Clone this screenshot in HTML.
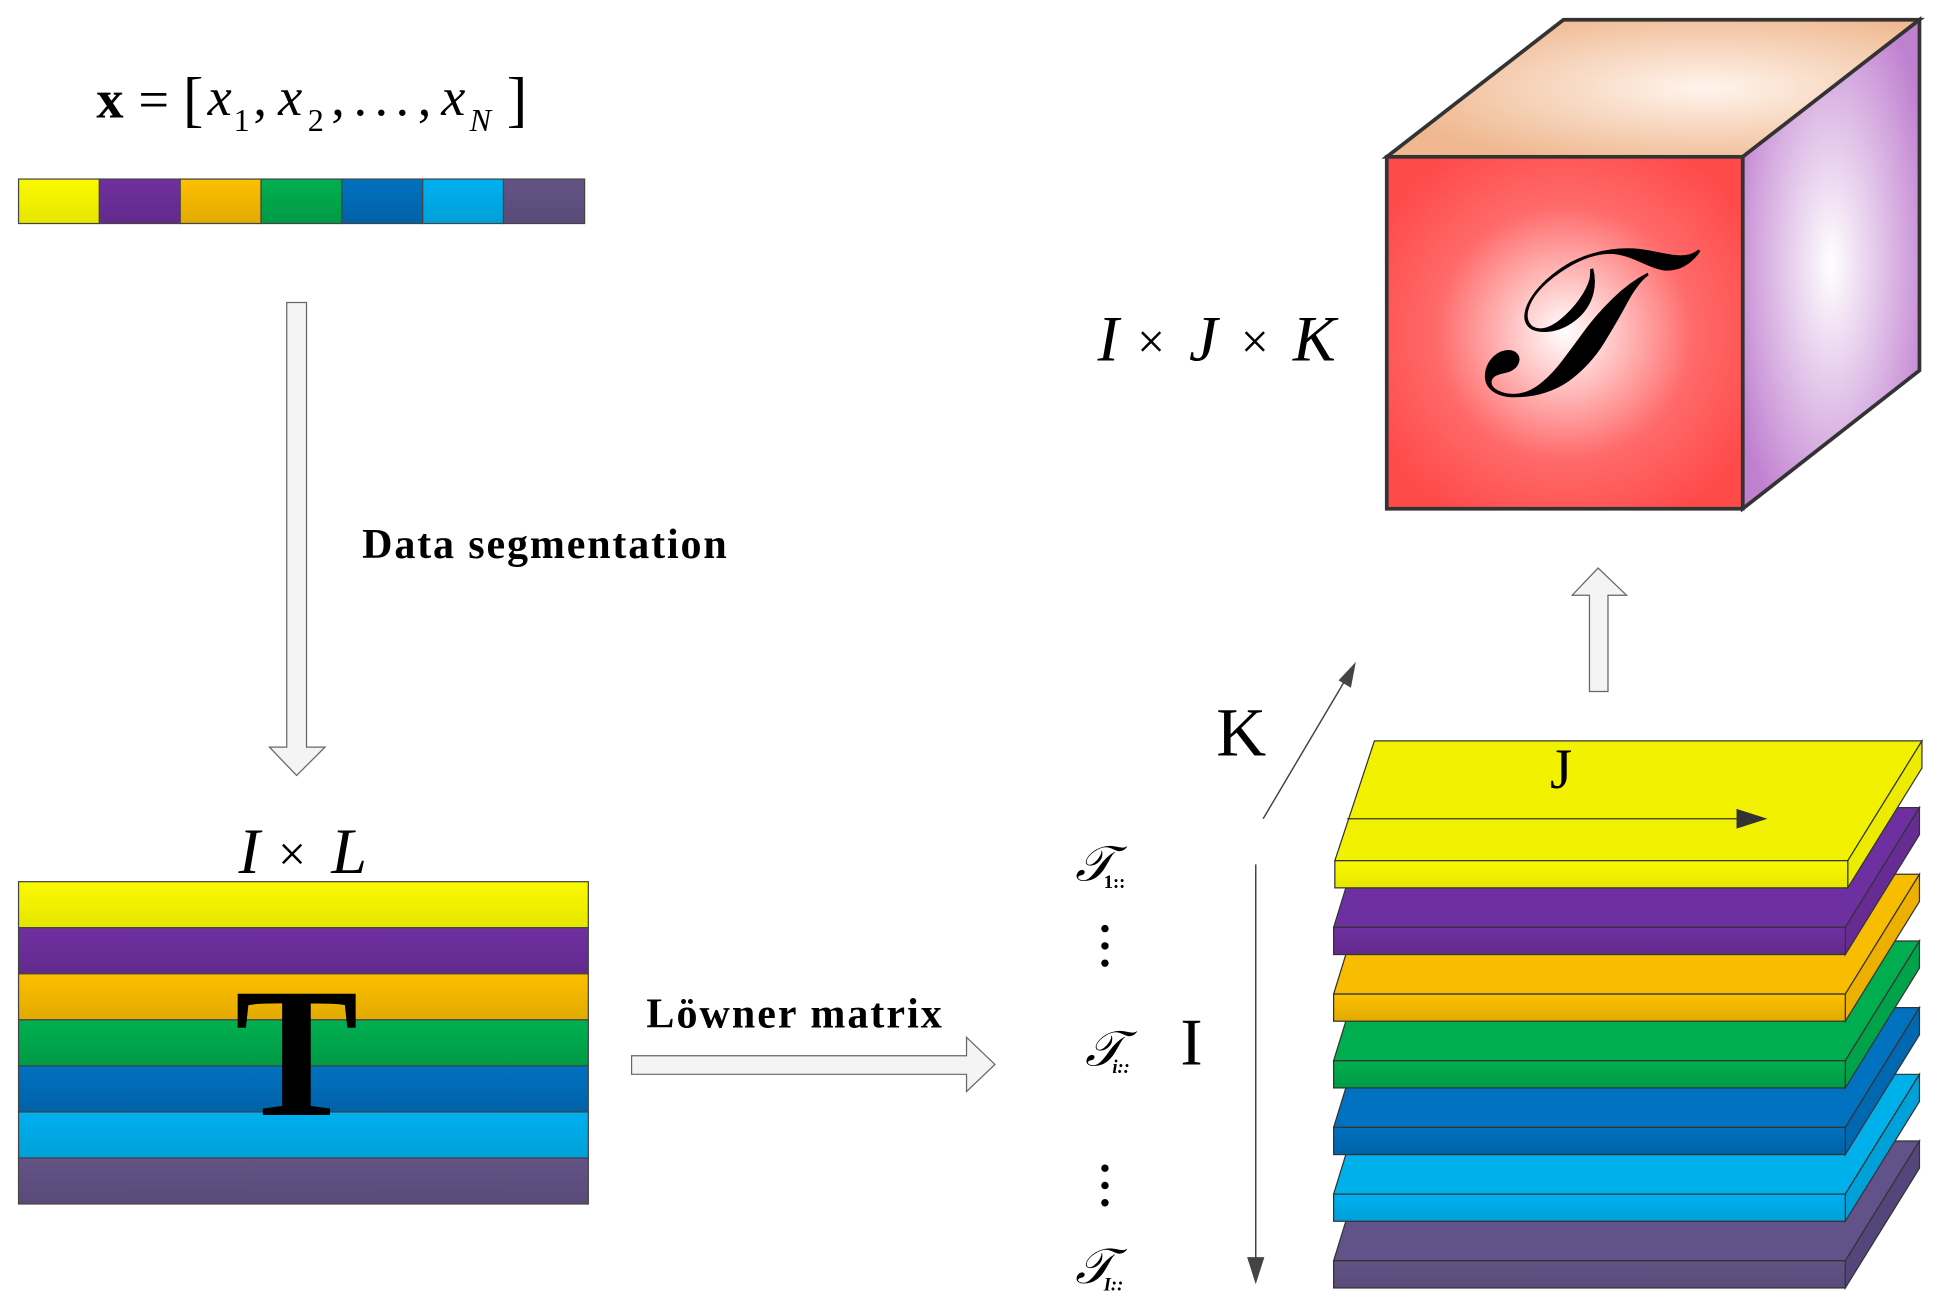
<!DOCTYPE html>
<html><head><meta charset="utf-8"><style>html,body{margin:0;padding:0;background:#fff}svg{display:block}</style></head>
<body>
<svg width="1938" height="1304" viewBox="0 0 1568 1056" preserveAspectRatio="none" xmlns="http://www.w3.org/2000/svg" font-family="'Liberation Serif',serif">
<defs>
<linearGradient id="gy" x1="0" y1="0" x2="0" y2="1"><stop offset="0" stop-color="#fafa00"/><stop offset="1" stop-color="#e6e600"/></linearGradient>
<linearGradient id="gp" x1="0" y1="0" x2="0" y2="1"><stop offset="0" stop-color="#7030a0"/><stop offset="1" stop-color="#622a8c"/></linearGradient>
<linearGradient id="go" x1="0" y1="0" x2="0" y2="1"><stop offset="0" stop-color="#fcc000"/><stop offset="1" stop-color="#e2aa00"/></linearGradient>
<linearGradient id="gg" x1="0" y1="0" x2="0" y2="1"><stop offset="0" stop-color="#00b050"/><stop offset="1" stop-color="#009a46"/></linearGradient>
<linearGradient id="gb" x1="0" y1="0" x2="0" y2="1"><stop offset="0" stop-color="#0072c0"/><stop offset="1" stop-color="#0062a8"/></linearGradient>
<linearGradient id="gc" x1="0" y1="0" x2="0" y2="1"><stop offset="0" stop-color="#00b0f0"/><stop offset="1" stop-color="#00a0d8"/></linearGradient>
<linearGradient id="gs" x1="0" y1="0" x2="0" y2="1"><stop offset="0" stop-color="#645486"/><stop offset="1" stop-color="#5a4a7a"/></linearGradient>
<radialGradient id="rr" cx="0.5" cy="0.5" r="0.6"><stop offset="0" stop-color="#ffffff"/><stop offset="0.6" stop-color="#ff6a6a"/><stop offset="1" stop-color="#ff4a4a"/></radialGradient>
<radialGradient id="rp" cx="0.5" cy="0.5" r="0.6"><stop offset="0" stop-color="#ffffff"/><stop offset="1" stop-color="#c080d0"/></radialGradient>
<radialGradient id="rt" cx="0.6" cy="0.5" r="0.6"><stop offset="0" stop-color="#fff4ec"/><stop offset="1" stop-color="#efb890"/></radialGradient>
</defs>

<!-- formula -->
<text x="78" y="95" font-size="44" font-weight="bold">x</text>
<text x="112" y="95" font-size="44">=</text>
<text x="148" y="97" font-size="50">[</text>
<text x="168" y="93" font-size="44" font-style="italic">x</text>
<text x="189" y="106" font-size="26">1</text>
<text x="205" y="93" font-size="44">,</text>
<text x="225" y="93" font-size="44" font-style="italic">x</text>
<text x="249" y="106" font-size="26">2</text>
<text x="268" y="93" font-size="44">,</text>
<text x="286" y="93" font-size="44" letter-spacing="6">...</text>
<text x="338" y="93" font-size="44">,</text>
<text x="357" y="93" font-size="44" font-style="italic">x</text>
<text x="380" y="106" font-size="26" font-style="italic">N</text>
<text x="410" y="97" font-size="50">]</text>

<!-- color bar -->
<g stroke="#444" stroke-width="1">
<rect x="15" y="145" width="65.4" height="36" fill="url(#gy)"/>
<rect x="80.4" y="145" width="65.4" height="36" fill="url(#gp)"/>
<rect x="145.8" y="145" width="65.4" height="36" fill="url(#go)"/>
<rect x="211.2" y="145" width="65.4" height="36" fill="url(#gg)"/>
<rect x="276.6" y="145" width="65.4" height="36" fill="url(#gb)"/>
<rect x="342" y="145" width="65.4" height="36" fill="url(#gc)"/>
<rect x="407.4" y="145" width="65.6" height="36" fill="url(#gs)"/>
</g>

<!-- down arrow -->
<polygon points="232,245 248,245 248,605 263,605 240,628 218,605 232,605" fill="#f4f4f4" stroke="#666" stroke-width="1"/>
<text x="293" y="452" font-size="34" font-weight="bold" textLength="295" lengthAdjust="spacing">Data segmentation</text>

<text x="193" y="707" font-size="52" font-style="italic">I</text>
<text x="225" y="705" font-size="40">×</text>
<text x="268" y="707" font-size="52" font-style="italic">L</text>

<!-- left stack -->
<g stroke="#444" stroke-width="1">
<rect x="15" y="714" width="461" height="37.3" fill="url(#gy)"/>
<rect x="15" y="751.3" width="461" height="37.3" fill="url(#gp)"/>
<rect x="15" y="788.6" width="461" height="37.3" fill="url(#go)"/>
<rect x="15" y="825.9" width="461" height="37.3" fill="url(#gg)"/>
<rect x="15" y="863.2" width="461" height="37.3" fill="url(#gb)"/>
<rect x="15" y="900.5" width="461" height="37.3" fill="url(#gc)"/>
<rect x="15" y="937.8" width="461" height="37.2" fill="url(#gs)"/>
</g>
<text x="240" y="903" font-size="150" font-weight="bold" text-anchor="middle">T</text>

<text x="523" y="832" font-size="34" font-weight="bold" textLength="239" lengthAdjust="spacing">Löwner matrix</text>
<polygon points="511,855 782,855 782,840 805,862 782,884 782,870 511,870" fill="#f4f4f4" stroke="#666" stroke-width="1"/>

<!-- labels -->
<g font-style="italic">
<text x="870" y="713" font-size="40">𝒯</text><text x="893" y="719" font-size="15" font-style="normal" font-weight="bold">1::</text>
<text x="878" y="863" font-size="40">𝒯</text><text x="900" y="869" font-size="15" font-weight="bold">i::</text>
<text x="870" y="1039" font-size="40">𝒯</text><text x="893" y="1045" font-size="15" font-weight="bold">I::</text>
</g>
<g fill="#000">
<circle cx="894" cy="752" r="3"/><circle cx="894" cy="766" r="3"/><circle cx="894" cy="780" r="3"/>
<circle cx="894" cy="946" r="3"/><circle cx="894" cy="960" r="3"/><circle cx="894" cy="974" r="3"/>
</g>
<text x="955" y="862" font-size="54">I</text>

<line x1="1016" y1="700" x2="1016" y2="1020" stroke="#444" stroke-width="1.2"/>
<polygon points="1009,1018 1023,1018 1016,1040" fill="#444"/>
<line x1="1022" y1="663" x2="1090" y2="548" stroke="#444" stroke-width="1.2"/>
<polygon points="1097,536 1093,557 1083,551" fill="#444"/>
<text x="984" y="612" font-size="56">K</text>

<!-- layers -->
<g stroke="#333" stroke-width="1">
<g transform="translate(0,324)"><polygon points="1079,697 1109,600 1553,600 1493,697" fill="#62528a"/><polygon points="1493,697 1553,600 1553,622 1493,719" fill="#54467a"/><rect x="1079" y="697" width="414" height="22" fill="url(#gs)"/></g>
<g transform="translate(0,270)"><polygon points="1079,697 1109,600 1553,600 1493,697" fill="#00b0ea"/><polygon points="1493,697 1553,600 1553,622 1493,719" fill="#00a0d8"/><rect x="1079" y="697" width="414" height="22" fill="url(#gc)"/></g>
<g transform="translate(0,216)"><polygon points="1079,697 1109,600 1553,600 1493,697" fill="#0072c0"/><polygon points="1493,697 1553,600 1553,622 1493,719" fill="#0068b0"/><rect x="1079" y="697" width="414" height="22" fill="url(#gb)"/></g>
<g transform="translate(0,162)"><polygon points="1079,697 1109,600 1553,600 1493,697" fill="#00ae50"/><polygon points="1493,697 1553,600 1553,622 1493,719" fill="#00a24a"/><rect x="1079" y="697" width="414" height="22" fill="url(#gg)"/></g>
<g transform="translate(0,108)"><polygon points="1079,697 1109,600 1553,600 1493,697" fill="#f8bc00"/><polygon points="1493,697 1553,600 1553,622 1493,719" fill="#ecb000"/><rect x="1079" y="697" width="414" height="22" fill="url(#go)"/></g>
<g transform="translate(0,54)"><polygon points="1079,697 1109,600 1553,600 1493,697" fill="#6e30a0"/><polygon points="1493,697 1553,600 1553,622 1493,719" fill="#662c94"/><rect x="1079" y="697" width="414" height="22" fill="url(#gp)"/></g>
<g transform="translate(1,0)"><polygon points="1079,697 1111,600 1554,600 1494,697" fill="#f2f200"/><polygon points="1494,697 1554,600 1554,622 1494,719" fill="#ecec00"/><rect x="1079" y="697" width="415" height="22" fill="url(#gy)"/></g>
</g>
<text x="1263" y="638" font-size="46" text-anchor="middle">J</text>
<line x1="1090" y1="663" x2="1410" y2="663" stroke="#333" stroke-width="1"/>
<polygon points="1405,655 1430,663 1405,671" fill="#333"/>

<!-- up arrow -->
<polygon points="1286,560 1301,560 1301,482 1316,482 1293,460 1272,482 1286,482" fill="#f4f4f4" stroke="#666" stroke-width="1"/>

<!-- cube -->
<g stroke="#333" stroke-width="3" stroke-linejoin="miter">
<polygon points="1122,127 1265,16 1553,16 1410,127" fill="url(#rt)"/>
<polygon points="1410,127 1553,16 1553,300 1410,412" fill="url(#rp)"/>
<rect x="1122" y="127" width="288" height="285" fill="url(#rr)"/>
</g>
<text x="1262" y="320" font-size="170" font-style="italic" text-anchor="middle">𝒯</text>
<text x="888" y="292" font-size="52" font-style="italic">I</text>
<text x="920" y="290" font-size="40">×</text>
<text x="962" y="292" font-size="52" font-style="italic">J</text>
<text x="1004" y="290" font-size="40">×</text>
<text x="1046" y="292" font-size="52" font-style="italic">K</text>
</svg>
</body></html>
